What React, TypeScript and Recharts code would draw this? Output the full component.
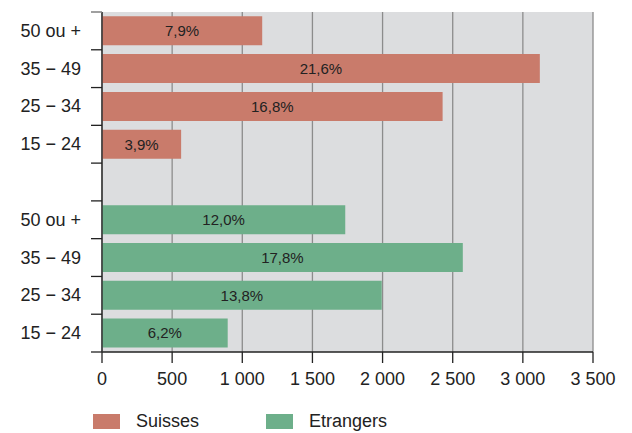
import { BarChart, Bar, XAxis, YAxis, CartesianGrid, Cell, LabelList } from "recharts";

const ageGroups = ["50 ou +", "35 − 49", "25 − 34", "15 − 24"];
const suisses = [1142, 3121, 2428, 564];
const etrangers = [1734, 2572, 1994, 896];
const suissesPct = ["7,9%", "21,6%", "16,8%", "3,9%"];
const etrangersPct = ["12,0%", "17,8%", "13,8%", "6,2%"];
const xTicks = [0, 500, 1000, 1500, 2000, 2500, 3000, 3500];

const RED = "#c97b6b";
const GREEN = "#6daf8a";
const FONT = "'Liberation Sans', Arial, sans-serif";

const W = 632;
const H = 433;
const TOP = 12;
const LEFT = 102;
const RIGHT = 39;
const X_AXIS_H = 40;
const BOTTOM = 41;

type Row = { id: string; label: string; value: number | null; pct: string | null; color: string };

const rows: Row[] = [
  ...ageGroups.map((g, i) => ({ id: "s" + i, label: g, value: suisses[i], pct: suissesPct[i], color: RED })),
  { id: "gap", label: "", value: null, pct: null, color: RED },
  ...ageGroups.map((g, i) => ({ id: "e" + i, label: g, value: etrangers[i], pct: etrangersPct[i], color: GREEN })),
];

const plotH = H - TOP - BOTTOM - X_AXIS_H;
const band = plotH / rows.length;

function fmtX(v: number): string {
  return v >= 1000 ? `${Math.floor(v / 1000)} ${String(v % 1000).padStart(3, "0")}` : String(v);
}

function YTick(props: any) {
  const { y, payload, index } = props;
  const row = rows.find((r) => r.id === payload.value);
  const bottom = y + band / 2;
  return (
    <g>
      {index === 0 ? <line x1={LEFT - 11} x2={LEFT} y1={y - band / 2} y2={y - band / 2} stroke="#808080" strokeWidth={1.5} /> : null}
      <line x1={LEFT - 11} x2={LEFT} y1={bottom} y2={bottom} stroke="#222" strokeWidth={1.3} />
      <text x={81} y={y} textAnchor="end" dominantBaseline="central" fill="#222" fontSize={18} fontFamily={FONT}>
        {row ? row.label : ""}
      </text>
    </g>
  );
}

export default function App() {
  return (
    <div style={{ position: "relative", width: W, height: H, fontFamily: FONT }}>
      <style>{`body{margin:0}`}</style>
      <BarChart
        width={W}
        height={H}
        data={rows}
        layout="vertical"
        margin={{ top: TOP, right: RIGHT, left: 0, bottom: BOTTOM }}
        barCategoryGap="11.5%"
      >
        <CartesianGrid horizontal={false} fill="#dcdddf" stroke="#8c8c8c" strokeWidth={1.3} fillOpacity={1} />
        <XAxis
          type="number"
          domain={[0, 3500]}
          ticks={xTicks}
          tickFormatter={fmtX}
          height={X_AXIS_H}
          tickSize={11}
          tickMargin={9}
          interval={0}
          tick={{ fill: "#222", fontSize: 18, fontFamily: FONT }}
          axisLine={{ stroke: "#222", strokeWidth: 1.3 }}
          tickLine={{ stroke: "#222", strokeWidth: 1.3 }}
        />
        <XAxis
          xAxisId="top"
          orientation="top"
          type="number"
          domain={[0, 3500]}
          height={0}
          tick={false}
          tickLine={false}
          axisLine={{ stroke: "#808080", strokeWidth: 1.5 }}
        />
        <YAxis
          type="category"
          dataKey="id"
          width={LEFT}
          interval={0}
          tickLine={false}
          tick={<YTick />}
          axisLine={{ stroke: "#333", strokeWidth: 1.5 }}
        />
        <Bar dataKey="value" isAnimationActive={false}>
          {rows.map((r) => (
            <Cell key={r.id} fill={r.color} />
          ))}
          <LabelList dataKey="pct" position="center" fill="#222" fontSize={15} fontFamily={FONT} />
        </Bar>
      </BarChart>
      <div style={{ position: "absolute", top: 411, left: 93, display: "flex", alignItems: "center", fontSize: 18, color: "#222" }}>
        <span style={{ width: 27, height: 15, background: RED, display: "inline-block" }} />
        <span style={{ marginLeft: 16, width: 130 }}>Suisses</span>
        <span style={{ width: 27, height: 15, background: GREEN, display: "inline-block" }} />
        <span style={{ marginLeft: 16 }}>Etrangers</span>
      </div>
    </div>
  );
}
